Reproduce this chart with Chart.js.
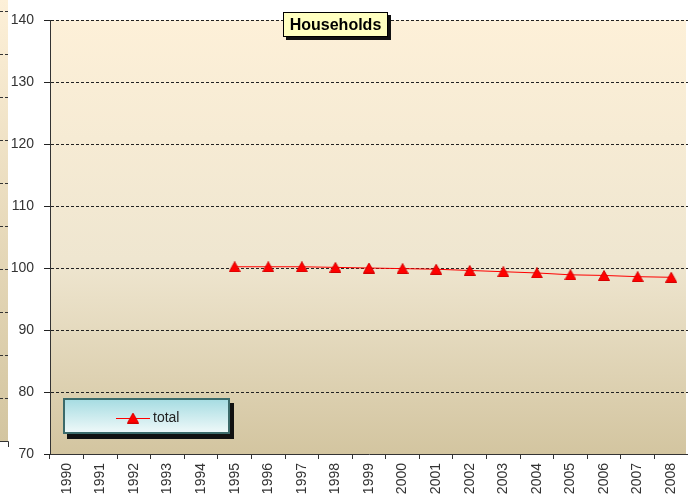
<!DOCTYPE html>
<html>
<head>
<meta charset="utf-8">
<script src="https://cdn.jsdelivr.net/npm/chart.js@4/dist/chart.umd.min.js"></script>
<style>
  html, body { margin: 0; padding: 0; background: #fff; }
  canvas { display: block; }
</style>
</head>
<body>
<canvas id="chart" width="688" height="498"></canvas>
<script>
// Data
const chartTitle = 'Households';
const seriesName = 'total';
const years = ['1990', '1991', '1992', '1993', '1994', '1995', '1996', '1997', '1998', '1999',
  '2000', '2001', '2002', '2003', '2004', '2005', '2006', '2007', '2008'];
const totalValues = [null, null, null, null, null, 100.2, 100.2, 100.2, 100.1, 100.0,
  99.9, 99.8, 99.6, 99.4, 99.2, 98.9, 98.8, 98.6, 98.5];
const yMin = 70;
const yMax = 140;
const yStep = 10;

const FONT = "'Liberation Sans', Arial, sans-serif";

// Excel-like triangle marker, centred on its bounding box
const marker = document.createElement('canvas');
marker.width = 12;
marker.height = 11;
(() => {
  const m = marker.getContext('2d');
  m.fillStyle = '#ff0000';
  m.strokeStyle = '#d40000';
  m.lineWidth = 1;
  m.beginPath();
  m.moveTo(6, 0.5);
  m.lineTo(11.5, 10.5);
  m.lineTo(0.5, 10.5);
  m.closePath();
  m.fill();
  m.stroke();
})();

// Backgrounds, title box and legend box
const decor = {
  id: 'decor',
  beforeDraw(chart) {
    const { ctx, chartArea: a } = chart;
    ctx.save();

    // sliver of the neighbouring chart on the left
    let g = ctx.createLinearGradient(0, 0, 0, 441);
    g.addColorStop(0, '#fdf0d8');
    g.addColorStop(1, '#d3c5a0');
    ctx.fillStyle = g;
    ctx.fillRect(0, 0, 8, 441);
    ctx.strokeStyle = '#333';
    ctx.lineWidth = 1;
    ctx.setLineDash([3, 2]);
    for (let y = 11; y < 440; y += 43) {
      ctx.beginPath();
      ctx.moveTo(0, y + 0.5);
      ctx.lineTo(8, y + 0.5);
      ctx.stroke();
    }
    ctx.setLineDash([]);
    ctx.beginPath();
    ctx.moveTo(0, 441.5);
    ctx.lineTo(8.5, 441.5);
    ctx.lineTo(8.5, 447);
    ctx.stroke();

    // plot area
    g = ctx.createLinearGradient(0, a.top, 0, a.bottom);
    g.addColorStop(0, '#fdf0d8');
    g.addColorStop(0.55, '#efe6d0');
    g.addColorStop(1, '#d3c5a0');
    ctx.fillStyle = g;
    ctx.fillRect(a.left, a.top, a.right - a.left - 2, a.bottom - a.top);
    ctx.restore();
  },
  afterDraw(chart) {
    const { ctx } = chart;
    ctx.save();

    // title box
    const tx = 283, ty = 12, tw = 105, th = 25;
    ctx.fillStyle = '#111';
    ctx.fillRect(tx + 3, ty + 3, tw, th);
    ctx.fillStyle = '#ffffc0';
    ctx.fillRect(tx, ty, tw, th);
    ctx.strokeStyle = '#000';
    ctx.lineWidth = 1;
    ctx.strokeRect(tx + 0.5, ty + 0.5, tw - 1, th - 1);
    ctx.fillStyle = '#000';
    ctx.font = 'bold 16px ' + FONT;
    ctx.textAlign = 'center';
    ctx.textBaseline = 'middle';
    ctx.fillText(chartTitle, tx + tw / 2, ty + th / 2 + 1);

    // legend box
    const lx = 63, ly = 398, lw = 167, lh = 36;
    ctx.fillStyle = '#111';
    ctx.fillRect(lx + 4, ly + 5, lw, lh);
    const g = ctx.createLinearGradient(0, ly, 0, ly + lh);
    g.addColorStop(0, '#a3dbe1');
    g.addColorStop(1, '#f2fafa');
    ctx.fillStyle = g;
    ctx.fillRect(lx, ly, lw, lh);
    ctx.strokeStyle = '#3b6a6a';
    ctx.lineWidth = 2;
    ctx.strokeRect(lx + 1, ly + 1, lw - 2, lh - 2);

    const ds = chart.data.datasets[0];
    const cy = 418;
    ctx.strokeStyle = ds.borderColor;
    ctx.lineWidth = 1;
    ctx.beginPath();
    ctx.moveTo(116, cy + 0.5);
    ctx.lineTo(150, cy + 0.5);
    ctx.stroke();
    ctx.drawImage(marker, 133 - marker.width / 2, cy - marker.height / 2);
    ctx.fillStyle = '#222';
    ctx.font = '14px ' + FONT;
    ctx.textAlign = 'left';
    ctx.textBaseline = 'middle';
    ctx.fillText(ds.label, 153, cy);
    ctx.restore();
  }
};

const ctx = document.getElementById('chart').getContext('2d');
const chart = new Chart(ctx, {
  type: 'line',
  data: {
    labels: years,
    datasets: [{
      label: seriesName,
      data: totalValues,
      borderColor: '#ff0000',
      borderWidth: 1,
      pointStyle: marker,
      pointRadius: 6,
      tension: 0,
      spanGaps: false
    }]
  },
  options: {
    responsive: false,
    animation: false,
    layout: { autoPadding: false, padding: { top: 20, right: 0, left: 0, bottom: 0 } },
    plugins: {
      legend: { display: false },
      title: { display: false },
      tooltip: { enabled: false }
    },
    scales: {
      x: {
        offset: true,
        grid: { offset: true, drawOnChartArea: false, tickLength: 5, color: '#333' },
        border: { color: '#333', width: 1 },
        ticks: {
          autoSkip: false, maxRotation: 90, minRotation: 90, padding: 4,
          color: '#333', font: { family: FONT, size: 14 }
        },
        afterFit(scale) {
          scale.height = 44;
          scale.paddingLeft = 0;
          scale.paddingRight = 0;
        }
      },
      y: {
        min: yMin,
        max: yMax,
        grid: { color: '#222', tickLength: 6, tickBorderDash: [] },
        border: { color: '#333', width: 1, dash: [3, 2] },
        ticks: {
          stepSize: yStep, padding: 10,
          color: '#333', font: { family: FONT, size: 14 }
        },
        afterFit(scale) { scale.width = 50; }
      }
    }
  },
  plugins: [decor]
});
</script>
</body>
</html>
